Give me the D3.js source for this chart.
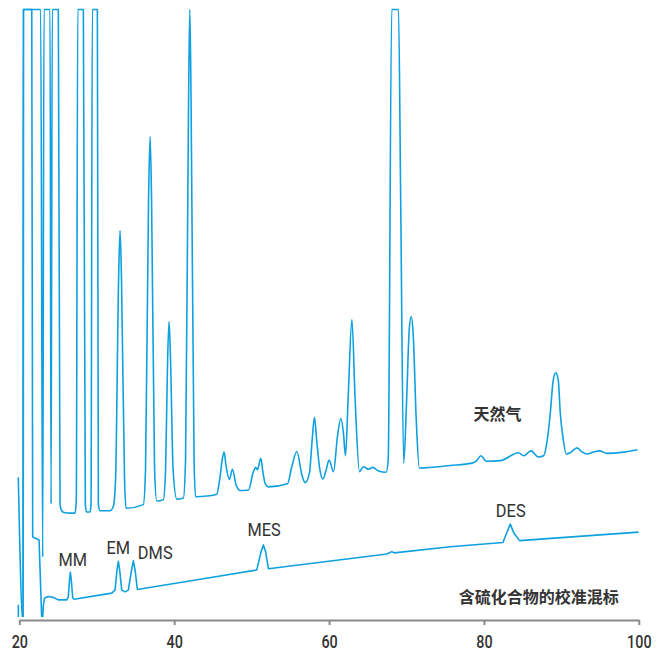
<!DOCTYPE html>
<html>
<head>
<meta charset="utf-8">
<script src="https://cdn.jsdelivr.net/npm/d3@7"></script>
<style>
  html, body { margin: 0; padding: 0; background: #fff; }
  svg { display: block; }
</style>
</head>
<body>
<svg id="chart" width="665" height="654"></svg>
<script>
// Retention time (min) and detector signal (% of full scale) for the natural gas run
const timeNG = [
  19.87, 20.49, 20.52, 20.54, 22.76, 23.02, 23.19, 23.97, 24.10, 24.26,
  25.04, 25.26, 25.48, 25.78, 26.55, 27.20, 27.36, 27.55, 28.27, 28.53,
  28.68, 29.13, 29.26, 29.43, 30.08, 30.21, 30.43, 31.72, 32.14, 32.43,
  32.82, 33.01, 33.20, 33.59, 33.79, 36.02, 36.30, 36.69, 36.89, 37.08,
  37.47, 37.75, 38.60, 38.89, 39.15, 39.34, 39.53, 39.86, 40.34, 41.19,
  41.47, 41.86, 42.02, 42.18, 42.57, 42.76, 44.21, 45.50, 45.93, 46.25,
  46.45, 46.68, 47.13, 47.52, 48.00, 48.52, 49.59, 50.23, 50.54, 50.75,
  51.19, 51.42, 51.74, 52.17, 54.63, 55.19, 55.84, 56.49, 56.91, 57.47,
  57.82, 58.11, 58.40, 58.76, 59.20, 59.63, 60.01, 60.57, 61.09, 61.52,
  61.86, 62.12, 62.46, 62.95, 63.37, 63.93, 64.44, 65.09, 65.66, 66.38,
  67.38, 67.64, 68.09, 68.97, 69.25, 69.64, 70.02, 70.35, 70.61, 70.87,
  71.26, 71.66, 75.66, 78.45, 79.07, 79.61, 80.30, 82.11, 84.47, 85.12,
  86.07, 87.05, 87.70, 88.18, 88.57, 88.95, 89.28, 89.60, 89.86, 90.25,
  90.64, 91.15, 92.02, 92.70, 93.31, 94.12, 94.94, 95.89, 98.04, 99.84
];
const signalNG = [
  23.4, -0.8, -0.8, 100, 100, 10.3, 100, 100, 19.0, 100,
  100, 18.9, 17.9, 17.6, 17.5, 17.5, 19.7, 100, 100, 18.9,
  17.7, 17.7, 18.9, 100, 100, 18.9, 17.9, 17.9, 18.6, 23.0,
  55.7, 63.8, 55.7, 23.0, 18.3, 18.9, 24.6, 68.9, 79.2, 68.9,
  24.6, 19.5, 19.7, 24.6, 42.6, 48.9, 42.6, 24.6, 19.8, 20.0,
  26.2, 85.2, 100, 85.2, 26.2, 20.2, 20.3, 20.6, 23.5, 26.6,
  27.5, 25.4, 23.0, 24.7, 22.1, 21.2, 21.3, 24.3, 25.0, 24.6,
  26.5, 24.6, 22.4, 21.8, 22.3, 25.1, 27.6, 23.8, 22.5, 24.1,
  29.5, 33.2, 29.5, 25.1, 23.1, 24.6, 26.2, 24.3, 30.1, 33.0,
  30.6, 26.9, 36.1, 49.2, 36.1, 24.3, 25.1, 24.7, 25.0, 24.4,
  24.2, 26.2, 100, 100, 68.9, 25.7, 36.1, 47.5, 49.7, 46.7,
  32.8, 24.9, 25.3, 25.7, 26.1, 26.9, 26.0, 26.1, 27.4, 26.9,
  27.7, 26.7, 26.9, 29.5, 33.9, 39.3, 40.5, 39.3, 33.9, 29.5,
  27.2, 27.4, 28.2, 27.5, 27.2, 27.5, 27.7, 27.3, 27.5, 27.9
];

// Sulfur compound calibration standard
const timeCal = [
  19.87, 19.90, 20.48, 20.52, 21.61, 21.73, 22.09, 22.55, 22.89, 22.97,
  23.10, 23.26, 23.75, 24.39, 25.04, 26.12, 26.33, 26.49, 26.59, 26.71,
  26.90, 27.07, 31.94, 32.36, 32.62, 32.79, 32.96, 33.23, 33.66, 34.08,
  34.50, 34.73, 34.95, 35.25, 45.93, 50.67, 51.23, 51.52, 51.81, 52.17,
  67.47, 68.11, 68.41, 75.65, 82.45, 82.95, 83.40, 83.85, 84.60, 99.97
];
const signalCal = [
  2.5, -1.6, -1.6, 100, 100, 13.6, 13.4, 13.1, 0.5, -0.8,
  2.3, 3.6, 3.85, 3.7, 3.3, 3.3, 3.8, 6.6, 7.8, 6.6,
  3.6, 3.4, 4.4, 4.9, 8.2, 9.6, 8.2, 4.9, 4.6, 4.9,
  8.2, 9.7, 8.2, 5.0, 7.2, 8.2, 11.2, 12.3, 11.2, 8.4,
  10.8, 11.2, 11.0, 12.0, 12.7, 14.3, 15.7, 14.3, 13.0, 14.4
];

// Identified sulfur peaks in the calibration run
const peakNames = ["MM", "EM", "DMS", "MES", "DES"];
const peakTimes = [26.59, 32.79, 34.73, 51.52, 83.40];

const xTicks = [20, 40, 60, 80, 100];
const traceNames = ["天然气", "含硫化合物的校准混标"];

// ---- layout ----
const svg = d3.select("#chart");
const W = 665, H = 654;
const lineColor = "#0fa0e0";
const textColor = "#333333";
const condensed = 0.82;   // horizontal squeeze for the narrow label face

const x = d3.scaleLinear().domain([20, 100]).range([19.3, 638.8]);
const y = d3.scaleLinear().domain([0, 100]).range([620, 9.5]);

svg.append("defs").append("clipPath").attr("id", "plotClip")
  .append("rect").attr("x", 0).attr("y", 0).attr("width", W).attr("height", 617);

const smoothLine = d3.line()
  .x(d => x(d[0]))
  .y(d => y(d[1]))
  .curve(d3.curveMonotoneX);

const straightLine = d3.line()
  .x(d => x(d[0]))
  .y(d => y(d[1]));

const traces = svg.append("g").attr("clip-path", "url(#plotClip)");

traces.append("path")
  .datum(d3.zip(timeCal, signalCal))
  .attr("d", straightLine)
  .attr("fill", "none")
  .attr("stroke", lineColor)
  .attr("stroke-width", 1.6)
  .attr("stroke-linejoin", "round");

traces.append("path")
  .datum(d3.zip(timeNG, signalNG))
  .attr("d", smoothLine)
  .attr("fill", "none")
  .attr("stroke", lineColor)
  .attr("stroke-width", 1.6)
  .attr("stroke-linejoin", "round");

// ---- x axis ----
const axis = svg.append("g")
  .attr("transform", `translate(0,${y(0)})`)
  .call(d3.axisBottom(x).tickValues(xTicks).tickSize(5).tickPadding(11).tickSizeOuter(0));
axis.select(".domain").attr("stroke", "#8a8a8a").attr("stroke-width", 2);
axis.selectAll(".tick line").attr("stroke", "#8a8a8a").attr("stroke-width", 2);
axis.selectAll(".tick text")
  .attr("fill", textColor)
  .attr("transform", `scale(${condensed},1)`)
  .style("font-family", "Roboto, sans-serif")
  .style("font-weight", "500")
  .style("font-size", "17.5px");

// ---- peak labels ----
const labelOffsets = [
  { dx: 2.5, dy: -6, anchor: "middle" },
  { dx: 0, dy: -7.5, anchor: "middle" },
  { dx: 4.5, dy: -2, anchor: "start" },
  { dx: 0.7, dy: -8.5, anchor: "middle" },
  { dx: 0.5, dy: -6.8, anchor: "middle" }
];
const calSignalAt = t => signalCal[d3.minIndex(timeCal, s => Math.abs(s - t))];

svg.append("g").selectAll("text")
  .data(peakNames)
  .join("text")
  .attr("transform", (d, i) =>
    `translate(${x(peakTimes[i]) + labelOffsets[i].dx},${y(calSignalAt(peakTimes[i])) + labelOffsets[i].dy}) scale(0.92,1)`)
  .attr("text-anchor", (d, i) => labelOffsets[i].anchor)
  .attr("fill", textColor)
  .style("font-family", "Roboto, sans-serif")
  .style("font-size", "17.8px")
  .text(d => d);

// ---- trace names ----
const nameStyle = sel => sel
  .attr("text-anchor", "middle")
  .attr("fill", textColor)
  .style("font-family", "'Noto Sans CJK SC', sans-serif")
  .style("font-weight", "bold")
  .style("font-size", "16px");

svg.append("text").attr("x", 497.5).attr("y", 419.5).call(nameStyle).text(traceNames[0]);
svg.append("text").attr("x", 538.7).attr("y", 603).call(nameStyle).text(traceNames[1]);
</script>
</body>
</html>
